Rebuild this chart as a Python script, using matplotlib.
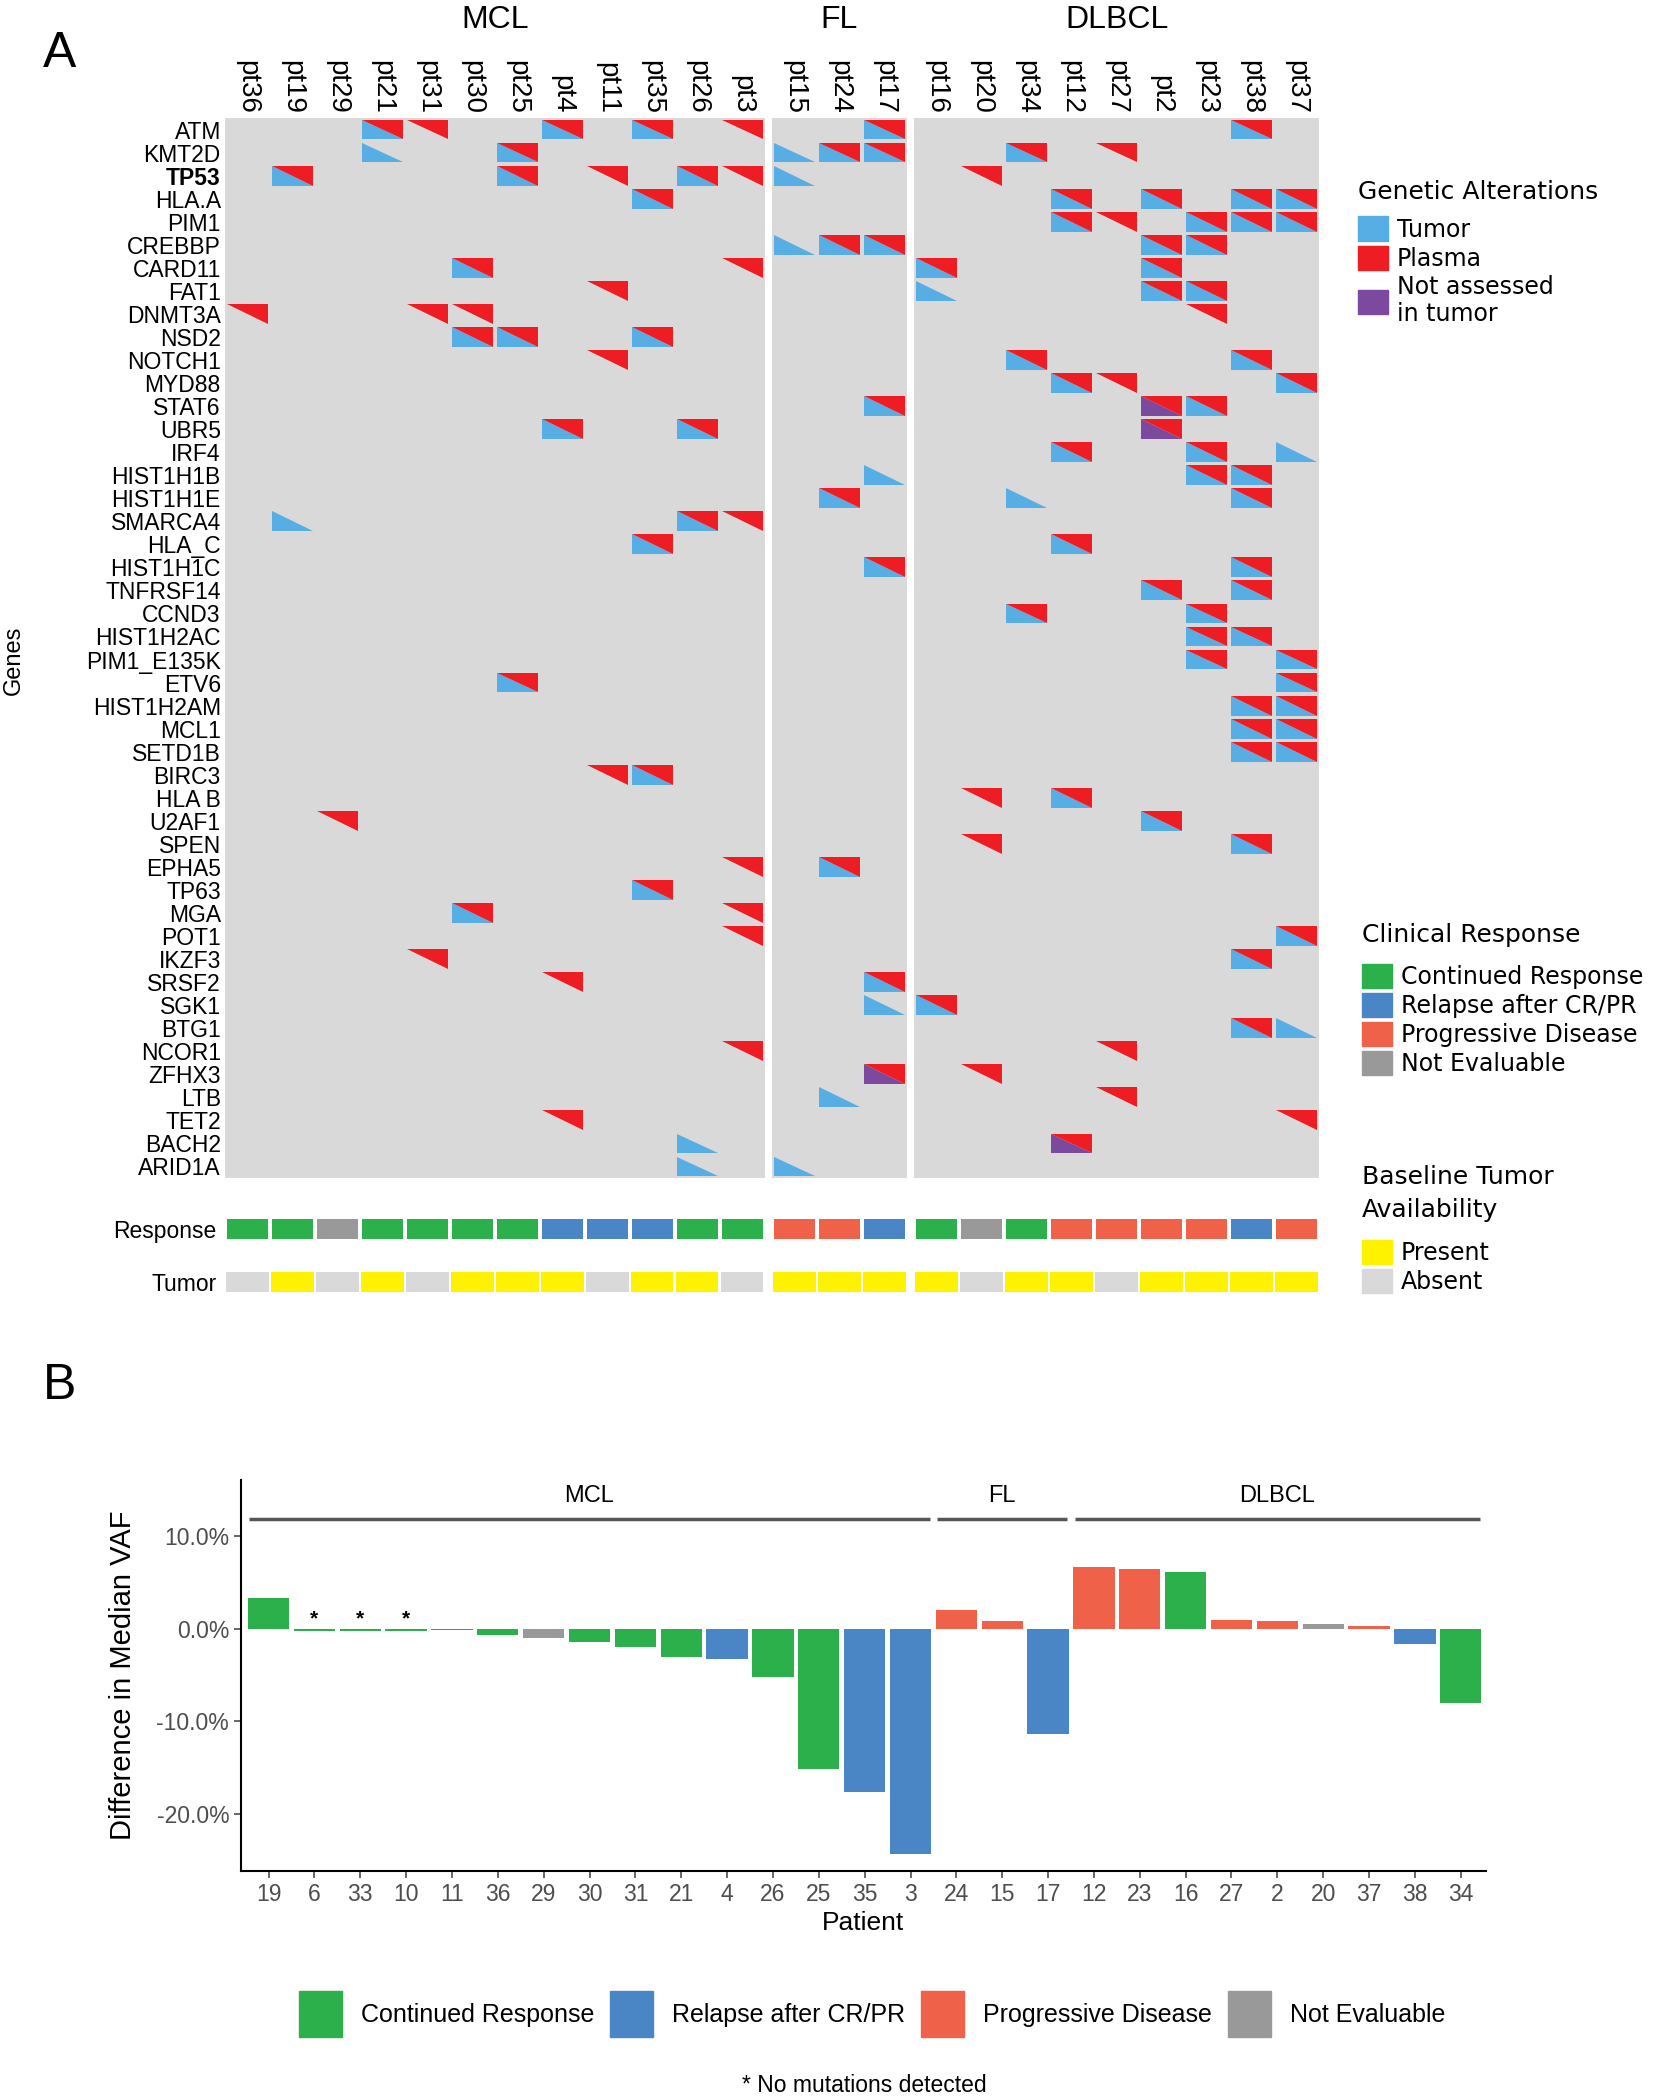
import numpy as np
import matplotlib.pyplot as plt
from matplotlib.patches import Polygon, Rectangle, Patch
import matplotlib.transforms as mtransforms

plt.rcParams['font.family'] = ['Liberation Sans', 'DejaVu Sans']

# ---------------- Panel A data ----------------
groups = ['MCL', 'FL', 'DLBCL']
group_sizes = [12, 3, 9]
patients = ['pt36', 'pt19', 'pt29', 'pt21', 'pt31', 'pt30', 'pt25', 'pt4', 'pt11', 'pt35', 'pt26', 'pt3',
            'pt15', 'pt24', 'pt17',
            'pt16', 'pt20', 'pt34', 'pt12', 'pt27', 'pt2', 'pt23', 'pt38', 'pt37']
genes = ['ATM', 'KMT2D', 'TP53', 'HLA.A', 'PIM1', 'CREBBP', 'CARD11', 'FAT1', 'DNMT3A', 'NSD2',
         'NOTCH1', 'MYD88', 'STAT6', 'UBR5', 'IRF4', 'HIST1H1B', 'HIST1H1E', 'SMARCA4', 'HLA_C',
         'HIST1H1C', 'TNFRSF14', 'CCND3', 'HIST1H2AC', 'PIM1_E135K', 'ETV6', 'HIST1H2AM', 'MCL1',
         'SETD1B', 'BIRC3', 'HLA B', 'U2AF1', 'SPEN', 'EPHA5', 'TP63', 'MGA', 'POT1', 'IKZF3',
         'SRSF2', 'SGK1', 'BTG1', 'NCOR1', 'ZFHX3', 'LTB', 'TET2', 'BACH2', 'ARID1A']
# per patient (MCL|FL|DLBCL): B tumor+plasma, P plasma only, T tumor only,
# N plasma + not assessed in tumor, . nothing
alterations = [
    "...BP..B.B.P|..B|.......B.",  # ATM
    "...T..B.....|TBB|..B.P....",  # KMT2D
    ".B....B.P.BP|T..|.P.......",  # TP53
    ".........B..|...|...B.B.BB",  # HLA.A
    "............|...|...BP.BBB",  # PIM1
    "............|TBB|.....BB..",  # CREBBP
    ".....B.....P|...|B....B...",  # CARD11
    "........P...|...|T....BB..",  # FAT1
    "P...PP......|...|......P..",  # DNMT3A
    ".....BB..B..|...|.........",  # NSD2
    "........P...|...|..B....B.",  # NOTCH1
    "............|...|...BP...B",  # MYD88
    "............|..B|.....NB..",  # STAT6
    ".......B..B.|...|.....N...",  # UBR5
    "............|...|...B..B.T",  # IRF4
    "............|..T|......BB.",  # HIST1H1B
    "............|.B.|..T....B.",  # HIST1H1E
    ".T........BP|...|.........",  # SMARCA4
    ".........B..|...|...B.....",  # HLA_C
    "............|..B|.......B.",  # HIST1H1C
    "............|...|.....B.B.",  # TNFRSF14
    "............|...|..B...B..",  # CCND3
    "............|...|......BB.",  # HIST1H2AC
    "............|...|......B.B",  # PIM1_E135K
    "......B.....|...|........B",  # ETV6
    "............|...|.......BB",  # HIST1H2AM
    "............|...|.......BB",  # MCL1
    "............|...|.......BB",  # SETD1B
    "........PB..|...|.........",  # BIRC3
    "............|...|.P.B.....",  # HLA B
    "..P.........|...|.....B...",  # U2AF1
    "............|...|.P.....B.",  # SPEN
    "...........P|.B.|.........",  # EPHA5
    ".........B..|...|.........",  # TP63
    ".....B.....P|...|.........",  # MGA
    "...........P|...|........B",  # POT1
    "....P.......|...|.......B.",  # IKZF3
    ".......P....|..B|.........",  # SRSF2
    "............|..T|B........",  # SGK1
    "............|...|.......BT",  # BTG1
    "...........P|...|....P....",  # NCOR1
    "............|..N|.P.......",  # ZFHX3
    "............|.T.|....P....",  # LTB
    ".......P....|...|........P",  # TET2
    "..........T.|...|...N.....",  # BACH2
    "..........T.|T..|.........",  # ARID1A
]
response = ['CR', 'CR', 'NE', 'CR', 'CR', 'CR', 'CR', 'RL', 'RL', 'RL', 'CR', 'CR',
            'PD', 'PD', 'RL',
            'CR', 'NE', 'CR', 'PD', 'PD', 'PD', 'PD', 'RL', 'PD']
tumor_present = [0, 1, 0, 1, 0, 1, 1, 1, 0, 1, 1, 0,
                 1, 1, 1,
                 1, 0, 1, 1, 0, 1, 1, 1, 1]

# ---------------- Panel B data ----------------
b_patients = ['19', '6', '33', '10', '11', '36', '29', '30', '31', '21', '4', '26', '25', '35', '3',
              '24', '15', '17',
              '12', '23', '16', '27', '2', '20', '37', '38', '34']
b_groups = ['MCL'] * 15 + ['FL'] * 3 + ['DLBCL'] * 9
vaf_diff = [3.3, -0.3, -0.3, -0.3, -0.2, -0.7, -1.0, -1.4, -2.0, -3.1, -3.3, -5.2, -15.1, -17.6, -24.3,
            2.0, 0.8, -11.3,
            6.6, 6.4, 6.1, 0.9, 0.8, 0.5, 0.3, -1.7, -8.0]
b_response = ['CR', 'CR', 'CR', 'CR', 'RL', 'CR', 'NE', 'CR', 'CR', 'CR', 'RL', 'CR', 'CR', 'RL', 'RL',
              'PD', 'PD', 'RL',
              'PD', 'PD', 'CR', 'PD', 'PD', 'NE', 'PD', 'RL', 'CR']
no_mutations = ['6', '33', '10']

resp_names = {'CR': 'Continued Response', 'RL': 'Relapse after CR/PR',
              'PD': 'Progressive Disease', 'NE': 'Not Evaluable'}
resp_colors = {'CR': '#2CB04B', 'RL': '#4A86C6', 'PD': '#F0614A', 'NE': '#999999'}
c_tumor, c_plasma, c_na = '#56AEE4', '#EE1D24', '#7B4A9E'
c_bg, c_yellow = '#D9D9D9', '#FFF200'

W, H = 1658, 2100
fig = plt.figure(figsize=(W / 100, H / 100), dpi=100)

def fr(x0, y0, x1, y1):
    return [x0 / W, 1 - y1 / H, (x1 - x0) / W, (y1 - y0) / H]

# ---------------- heatmap ----------------
gap = 0.16
grp_idx = np.repeat(np.arange(len(groups)), group_sizes)
xpos = np.arange(len(patients)) + gap * grp_idx
codes = [a.replace('|', '') for a in alterations]

axA = fig.add_axes(fr(225, 118, 1319, 1178))
for g in range(len(groups)):
    xs = xpos[grp_idx == g]
    axA.add_patch(Rectangle((xs[0] - 0.5, -0.5), xs[-1] - xs[0] + 1, len(genes), color=c_bg, lw=0))

hx, hy = 0.45, 0.43
for i, row in enumerate(codes):
    for j, c in enumerate(row):
        if c == '.':
            continue
        x0, x1 = xpos[j] - hx, xpos[j] + hx
        yt, yb = i - hy, i + hy
        if c in 'BTN':
            col = c_na if c == 'N' else c_tumor
            axA.add_patch(Polygon([(x0, yt), (x0, yb), (x1, yb)], closed=True, color=col, lw=0))
        if c in 'BPN':
            axA.add_patch(Polygon([(x0, yt), (x1, yt), (x1, yb)], closed=True, color=c_plasma, lw=0))

axA.set_xlim(xpos[0] - 0.5, xpos[-1] + 0.5)
axA.set_ylim(len(genes) - 0.5, -0.5)
axA.set_yticks(range(len(genes)))
axA.set_yticklabels(genes, fontsize=16.5)
axA.get_yticklabels()[genes.index('TP53')].set_fontweight('bold')
axA.xaxis.tick_top()
axA.set_xticks(xpos)
axA.set_xticklabels(patients, rotation=-90, fontsize=20)
axA.tick_params(length=0, pad=3)
for s in axA.spines.values():
    s.set_visible(False)
fig.text(14 / W, 1 - 660 / H, 'Genes', rotation=90, ha='center', va='center', fontsize=17)
trA = mtransforms.blended_transform_factory(axA.transData, axA.transAxes)
for g, name in enumerate(groups):
    xs = xpos[grp_idx == g]
    axA.text((xs[0] + xs[-1]) / 2, 1.092, name, transform=trA, ha='center', va='center', fontsize=23)

# ---------------- response / tumor strips ----------------
axR = fig.add_axes(fr(225, 1212, 1319, 1298))
y_resp, y_tum = 0, 2.65
for j in range(len(patients)):
    axR.add_patch(Rectangle((xpos[j] - 0.46, y_resp - 0.5), 0.92, 1.0,
                            color=resp_colors[response[j]], lw=0))
    axR.add_patch(Rectangle((xpos[j] - 0.47, y_tum - 0.5), 0.94, 1.0,
                            color=c_yellow if tumor_present[j] else c_bg, lw=0))
axR.set_xlim(xpos[0] - 0.5, xpos[-1] + 0.5)
axR.set_ylim(3.45, -0.85)
axR.set_xticks([])
axR.set_yticks([y_resp, y_tum])
axR.set_yticklabels(['Response', 'Tumor'], fontsize=16.5)
axR.tick_params(length=0, pad=6)
for s in axR.spines.values():
    s.set_visible(False)

# ---------------- legends for A ----------------
lp = {'family': 'DejaVu Sans', 'size': 17}
tp = {'family': 'DejaVu Sans', 'size': 18}
leg_kw = dict(loc='upper left', frameon=False, prop=lp, title_fontproperties=tp, alignment='left',
              handlelength=1.25, handleheight=1.2, labelspacing=0.17, handletextpad=0.4,
              borderpad=0, borderaxespad=0)
leg1 = fig.legend(handles=[Patch(color=c) for c in (c_tumor, c_plasma, c_na)],
                  labels=['Tumor', 'Plasma', 'Not assessed\nin tumor'], title='Genetic Alterations',
                  bbox_to_anchor=(1358 / W, 1 - 180 / H), **leg_kw)
leg2 = fig.legend(handles=[Patch(color=resp_colors[k]) for k in resp_names],
                  labels=list(resp_names.values()), title='Clinical Response',
                  bbox_to_anchor=(1362 / W, 1 - 923 / H), **leg_kw)
leg3 = fig.legend(handles=[Patch(color=c_yellow), Patch(color=c_bg)], labels=['Present', 'Absent'],
                  title='Baseline Tumor\nAvailability', bbox_to_anchor=(1362 / W, 1 - 1165 / H),
                  **leg_kw)
leg3.get_title().set_linespacing(1.45)
leg1._legend_box.sep = 9
leg2._legend_box.sep = 12
leg3._legend_box.sep = 13

# ---------------- Panel B ----------------
axB = fig.add_axes(fr(241, 1480, 1486, 1871))
xb = np.arange(len(b_patients))
axB.bar(xb, vaf_diff, width=0.9, color=[resp_colors[r] for r in b_response])
for k, p in enumerate(b_patients):
    if p in no_mutations:
        axB.text(k, 1.0, '*', ha='center', va='center', fontsize=15, fontweight='bold')
for g in groups:
    idx = [k for k, gg in enumerate(b_groups) if gg == g]
    axB.plot([idx[0] - 0.42, idx[-1] + 0.42], [11.8, 11.8], color='#555555', lw=2.5,
             solid_capstyle='butt')
    axB.text((idx[0] + idx[-1]) / 2, 14.3, g, ha='center', va='center', fontsize=17)
axB.set_xlim(-0.6, len(b_patients) - 0.45)
axB.set_ylim(-26.1, 16)
axB.set_yticks([-20, -10, 0, 10])
axB.set_yticklabels([f'{v:.1f}%' for v in (-20, -10, 0, 10)])
axB.set_xticks(xb)
axB.set_xticklabels(b_patients)
axB.tick_params(labelsize=16.5, colors='#4D4D4D', length=5, width=1.2, labelcolor='#4D4D4D')
axB.spines['top'].set_visible(False)
axB.spines['right'].set_visible(False)
axB.spines['left'].set_linewidth(1.5)
axB.spines['bottom'].set_linewidth(1.5)
axB.set_xlabel('Patient', fontsize=19, labelpad=4)
axB.set_ylabel('Difference in Median VAF', fontsize=21, labelpad=14)

fig.legend(handles=[Patch(color=resp_colors[k]) for k in resp_names], labels=list(resp_names.values()),
           loc='center', bbox_to_anchor=(872 / W, 1 - 2014 / H), ncol=4, frameon=False, fontsize=18,
           handlelength=1.72, handleheight=2.43, handletextpad=0.75, columnspacing=0.64)
fig.text(864 / W, 1 - 2085 / H, '* No mutations detected', ha='center', va='center', fontsize=16.5)

fig.text(60 / W, 1 - 54 / H, 'A', fontsize=36, ha='center', va='center')
fig.text(60 / W, 1 - 1386 / H, 'B', fontsize=36, ha='center', va='center')

fig.savefig('out.png', dpi=100)
